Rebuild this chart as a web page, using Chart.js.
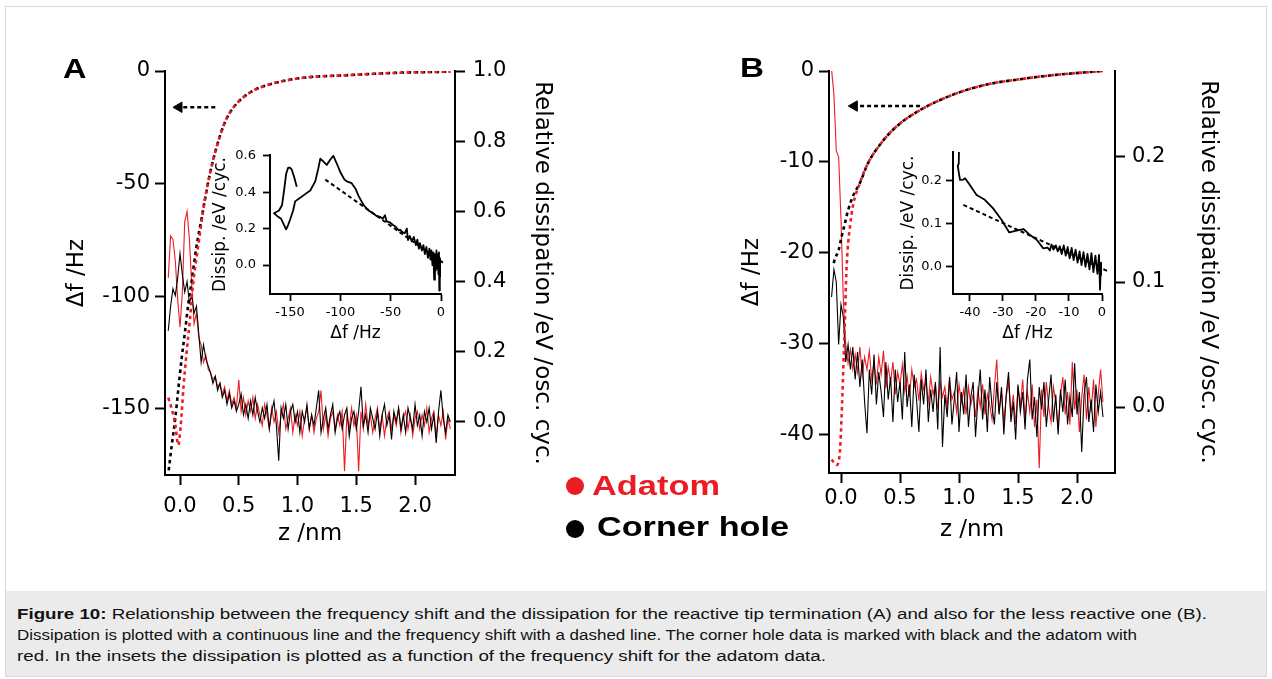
<!DOCTYPE html>
<html><head><meta charset="utf-8"><title>Figure 10</title>
<script src="https://cdn.jsdelivr.net/npm/chart.js@4.4.1/dist/chart.umd.min.js"></script>
<style>
html,body{margin:0;padding:0;background:#fff;}
body{width:1272px;height:679px;position:relative;overflow:hidden;font-family:"Liberation Sans",Arial,sans-serif;}
#frame{position:absolute;left:5px;top:6px;width:1262px;height:671px;border:1.5px solid #dadada;box-sizing:border-box;}
#capbox{position:absolute;left:6px;top:591px;width:1260px;height:85px;background:#ebebeb;}
.t{position:absolute;white-space:nowrap;transform-origin:0 0;line-height:1.117;}
canvas{position:absolute;}
.dot{position:absolute;border-radius:50%;}
</style></head>
<body>
<div id="frame"></div>
<div id="capbox"></div>
<canvas id="mainA" width="590" height="520" style="left:30px;top:40px"></canvas>
<canvas id="insetA" width="250" height="210" style="left:200px;top:140px"></canvas>
<canvas id="mainB" width="570" height="520" style="left:700px;top:40px"></canvas>
<canvas id="insetB" width="240" height="210" style="left:880px;top:140px"></canvas>

<div class="t" data-w="23.5" style="left:63px;top:52.7px;font-size:28px;font-weight:bold">A</div>
<div class="t" data-w="24" style="left:739.5px;top:51.7px;font-size:28px;font-weight:bold">B</div>

<div class="dot" style="left:566px;top:477px;width:18px;height:18px;background:#ec1c24"></div>
<div class="dot" style="left:566px;top:520px;width:18px;height:18px;background:#000"></div>
<div class="t" data-w="128" style="left:592px;top:469.7px;font-size:28px;font-weight:bold;color:#ec1c24">Adatom</div>
<div class="t" data-w="192" style="left:596.5px;top:510.7px;font-size:28px;font-weight:bold;color:#000">Corner hole</div>

<div class="t" data-w="1190" style="left:16.5px;top:606.8px;font-size:14px;color:#111"><b>Figure 10:</b> Relationship between the frequency shift and the dissipation for the reactive tip termination (A) and also for the less reactive one (B).</div>
<div class="t" data-w="1120" style="left:16.5px;top:627.8px;font-size:14px;color:#111">Dissipation is plotted with a continuous line and the frequency shift with a dashed line. The corner hole data is marked with black and the adatom with</div>
<div class="t" data-w="809" style="left:16.5px;top:648.8px;font-size:14px;color:#111">red. In the insets the dissipation is plotted as a function of the frequency shift for the adatom data.</div>

<script>
// ---------------- DATA ----------------
// Panel A: tick values and labels
const A_zTicks = [0.0, 0.5, 1.0, 1.5, 2.0];
const A_zTickLabels = ['0.0', '0.5', '1.0', '1.5', '2.0'];
const A_dfTicks = [0, -50, -100, -150];
const A_dfTickLabels = ['0', '-50', '-100', '-150'];
const A_dissTicks = [1.0, 0.8, 0.6, 0.4, 0.2, 0.0];
const A_dissTickLabels = ['1.0', '0.8', '0.6', '0.4', '0.2', '0.0'];

// Panel A: frequency shift curves (dashed), z in nm, df in Hz
const A_dfAdatomZ = [-0.10, -0.07, -0.04, -0.015, 0.005, 0.03, 0.057, 0.085, 0.11, 0.14, 0.17, 0.21, 0.255, 0.31, 0.38, 0.45, 0.60, 0.74, 1.02, 1.45, 1.87, 2.30];
const A_dfAdatom = [-145, -150, -157, -166, -158, -140, -124.5, -110, -95, -83, -72, -57.6, -45.5, -34, -23, -16.5, -9.4, -6.3, -3.2, -1.8, -0.75, -0.3];
const A_dfCornerZ = [-0.10, -0.07, -0.04, -0.014, 0.014, 0.043, 0.07, 0.10, 0.14, 0.185, 0.21, 0.255, 0.31, 0.38, 0.45, 0.60, 0.74, 1.02, 1.45, 1.87, 2.30];
const A_dfCorner = [-178.8, -166, -154, -141, -127.5, -115.6, -103.6, -93, -78, -65, -57.6, -45.5, -34, -23, -16.5, -9.4, -6.3, -3.2, -1.8, -0.75, -0.3];
const A_arrowZ = [0.30, -0.0085];
const A_arrowDf = [-16.1, -16.1];

// Panel A: relative dissipation, sampled every 0.02 nm from z = -0.10
const A_zStart = -0.10, A_zStep = 0.02;
const A_dissAdatom = [
  0.41,0.53,0.52,0.46,0.35,0.27,0.37,0.57,0.60,0.52,0.39,0.28,0.31,0.24,0.22,0.17,0.19,0.15,0.14,0.12,0.13,0.10,0.11,0.08,0.10,0.06,0.09,0.05,0.07,
  0.04,0.12,0.03,0.07,0.02,0.06,0.03,0.07,0.01,0.05,
  0.02,-0.01,0.05,0.02,-0.02,0.04,0.00,0.03,-0.03,0.02,0.05,-0.02,0.01,0.04,-0.03,
  0.02,-0.01,0.03,-0.04,0.01,0.04,-0.02,0.02,-0.03,0.01,
  0.03,0.09,-0.02,0.02,-0.04,0.01,0.03,-0.02,0.02,-0.01,
  0.03,-0.14,0.02,-0.02,0.04,-0.01,0.02,-0.14,0.03,-0.02,
  0.05,-0.01,0.02,-0.03,0.01,0.04,-0.02,0.02,-0.04,0.01,
  0.03,-0.02,0.02,-0.01,0.04,-0.03,0.01,0.03,-0.02,0.02,
  -0.04,0.01,0.03,-0.02,0.02,-0.01,0.04,-0.03,0.01,0.03,
  -0.04,0.02,-0.01,0.03,-0.05,0.01,-0.02
];
const A_dissCorner = [
  0.26,0.33,0.38,0.36,0.41,0.48,0.42,0.37,0.40,0.34,0.36,0.31,0.33,0.25,0.17,0.22,0.18,0.16,0.14,0.11,0.13,0.09,0.11,0.07,0.09,0.05,0.08,0.04,0.06,
  0.03,0.05,0.08,0.02,0.05,0.01,0.06,0.02,0.07,0.03,
  0.00,0.04,0.01,0.05,-0.02,0.03,0.06,-0.01,-0.11,0.04,0.01,0.05,-0.02,0.03,0.05,
  0.00,0.03,-0.03,0.03,0.00,0.05,-0.02,0.02,-0.01,0.04,
  0.09,-0.03,0.01,0.04,-0.02,0.02,0.05,-0.03,0.01,0.03,
  -0.02,0.02,0.04,-0.04,0.01,0.03,-0.02,0.03,0.10,-0.01,
  0.02,-0.03,0.04,0.01,-0.02,0.03,-0.04,0.02,0.05,-0.01,
  0.02,-0.05,0.03,0.00,0.04,-0.02,0.02,-0.03,0.04,0.01,
  -0.02,0.05,-0.01,0.02,-0.04,0.03,0.00,0.04,-0.02,0.02,
  -0.06,0.03,0.09,0.01,-0.03,0.02,0.00
];

// Inset A: adatom dissipation vs frequency shift
const IA_df = [-143.4,-145.8,-148.4,-150,-152,-154,-156,-158,-161,-166,-163,-159,-156,-154,-152,-150,-147,-145,-140,-135,-130,-125,-122,-120,-117,-113.6,-110,-107,-103,-100,-96,-93.7,-88.8,-85,-82,-77,-72,-67.6,-64,-60.6,-58,-55.7,-54,-51,-47.7,-45,-42,-40.8,-38,-36,-34,-32.8,-31,-29,-27,-25,-23.5,-22,-20.9,-19,-17.5,-16,-14.5,-13,-11.5,-10.5,-9.5,-8.5,-7.6,-6.8,-6,-5.2,-4.5,-3.8,-3.2,-2.6,-2.0,-1.7,-1.2,-0.8,-0.4,-0.1];
const IA_diss = [0.43,0.48,0.525,0.535,0.535,0.50,0.41,0.33,0.30,0.285,0.27,0.255,0.22,0.196,0.22,0.25,0.30,0.35,0.37,0.39,0.41,0.46,0.53,0.585,0.57,0.55,0.58,0.60,0.55,0.51,0.47,0.46,0.45,0.42,0.38,0.33,0.30,0.285,0.27,0.265,0.255,0.274,0.24,0.235,0.22,0.21,0.19,0.195,0.18,0.175,0.20,0.137,0.16,0.13,0.155,0.11,0.14,0.09,0.12,0.08,0.11,0.06,0.10,0.04,0.09,0.03,0.08,0.00,0.07,-0.08,0.06,-0.03,0.08,-0.02,0.06,-0.05,0.07,-0.14,0.04,-0.06,0.03,0.0];
const IA_fitDf = [-115, 4];
const IA_fitDiss = [0.47, 0.005];
const IA_xTicks = [-150, -100, -50, 0];
const IA_xTickLabels = ['-150', '-100', '-50', '0'];
const IA_yTicks = [0.0, 0.2, 0.4, 0.6];
const IA_yTickLabels = ['0.0', '0.2', '0.4', '0.6'];

// Panel B: tick values and labels
const B_zTicks = [0.0, 0.5, 1.0, 1.5, 2.0];
const B_zTickLabels = ['0.0', '0.5', '1.0', '1.5', '2.0'];
const B_dfTicks = [0, -10, -20, -30, -40];
const B_dfTickLabels = ['0', '-10', '-20', '-30', '-40'];
const B_dissTicks = [0.2, 0.1, 0.0];
const B_dissTickLabels = ['0.2', '0.1', '0.0'];

// Panel B: frequency shift curves (dashed)
const B_dfAdatomZ = [-0.08, -0.036, -0.008, 0.005, 0.02, 0.034, 0.042, 0.056, 0.076, 0.10, 0.16, 0.23, 0.33, 0.47, 0.67, 0.95, 1.23, 1.52, 1.80, 2.22];
const B_dfAdatom = [-42.7, -43.3, -41.6, -38, -32.5, -27, -23.3, -19.7, -17.1, -14.9, -12.3, -10.1, -8.1, -6.1, -4.3, -2.6, -1.5, -0.9, -0.45, 0];
const B_dfCornerZ = [-0.07, -0.05, -0.02, 0.005, 0.034, 0.06, 0.10, 0.16, 0.23, 0.33, 0.47, 0.67, 0.95, 1.23, 1.52, 1.80, 2.22];
const B_dfCorner = [-21.5, -20.6, -19.7, -18.2, -16.7, -15.3, -13.8, -12.3, -10.1, -8.1, -6.1, -4.3, -2.6, -1.5, -0.9, -0.45, 0];
const B_arrowZ = [0.67, 0.113];
const B_arrowDf = [-3.85, -3.85];

// Panel B: relative dissipation, sampled every 0.02 nm from z = -0.08
const B_zStart = -0.08, B_zStep = 0.02;
const B_dissAdatom = [
  0.27,0.25,0.205,0.20,0.15,0.085,0.05,0.035,0.046,0.030,
  0.042,0.028,0.048,0.025,0.040,0.030,0.045,0.022,0.036,0.018,
  0.040,0.026,0.045,0.015,0.032,0.020,0.036,0.010,0.028,0.018,
  0.034,0.012,0.025,0.008,0.030,0.016,0.022,0.005,0.027,0.014,
  0.020,0.004,0.024,0.010,0.018,-0.002,0.020,0.008,0.016,0.000,
  0.022,0.006,0.012,-0.004,0.018,0.004,0.014,-0.006,0.016,0.002,
  0.010,-0.008,0.014,0.000,0.018,-0.006,0.010,0.002,-0.010,0.016,
  0.038,-0.004,0.012,-0.012,0.008,0.020,-0.006,0.010,-0.014,0.016,
  0.002,0.022,-0.010,0.012,-0.004,0.018,-0.016,0.006,-0.049,0.014,
  -0.008,0.020,0.000,-0.012,0.016,0.004,-0.018,0.010,0.024,-0.006,
  0.012,-0.014,0.036,-0.002,0.014,-0.020,0.008,0.026,-0.010,0.016,
  -0.004,0.022,-0.016,0.010,0.030,0.004
];
const B_dissCorner = [
  0.088,0.11,0.10,0.05,0.082,0.072,0.036,0.050,0.030,0.048,
  0.022,0.044,0.016,0.038,0.004,-0.021,0.030,0.010,0.042,0.002,
  0.028,0.012,-0.008,0.036,0.006,0.024,-0.012,0.030,0.004,0.020,
  -0.010,0.044,0.000,0.018,-0.016,0.026,0.006,-0.020,0.022,0.002,
  0.030,-0.012,0.014,-0.004,0.020,-0.018,0.048,-0.032,0.010,-0.008,
  0.024,-0.014,0.006,0.028,-0.020,0.012,-0.006,0.026,-0.016,0.008,
  0.020,-0.024,0.006,0.030,-0.010,0.014,-0.020,0.024,0.000,-0.014,
  0.020,-0.006,0.016,-0.022,0.010,0.028,-0.012,0.004,-0.026,0.018,
  -0.004,0.012,-0.018,0.022,0.038,-0.010,0.008,-0.024,0.016,-0.002,
  0.020,-0.016,0.006,0.026,-0.012,0.010,-0.022,0.014,-0.004,0.022,
  -0.014,0.008,-0.008,0.035,-0.006,0.012,-0.036,0.010,0.024,-0.012,
  0.006,-0.020,0.018,-0.004,0.012,-0.008
];

// Inset B
const IB_df = [-43.3,-43.4,-43.7,-43.2,-43,-42,-41.5,-40,-38,-35.5,-33,-30.4,-28.1,-25.9,-23.8,-21.8,-19.8,-17.8,-16.5,-15.8,-15.3,-14.7,-14,-13.4,-12.8,-12.2,-11.6,-11,-10.4,-9.8,-9.2,-8.6,-8,-7.4,-6.8,-6.2,-5.6,-5,-4.4,-3.8,-3.2,-2.6,-2,-1.4,-0.9,-0.6,-0.3,0];
const IB_diss = [0.30,0.24,0.235,0.21,0.202,0.203,0.206,0.19,0.167,0.156,0.136,0.109,0.08,0.084,0.088,0.074,0.063,0.043,0.045,0.038,0.052,0.04,0.05,0.036,0.048,0.03,0.05,0.026,0.046,0.02,0.044,0.016,0.04,0.01,0.036,0.004,0.034,0.0,0.03,-0.006,0.032,-0.012,0.026,-0.016,0.028,-0.053,0.01,-0.02];
const IB_fitDf = [-42, 2];
const IB_fitDiss = [0.144, -0.011];
const IB_xTicks = [-40, -30, -20, -10, 0];
const IB_xTickLabels = ['-40', '-30', '-20', '-10', '0'];
const IB_yTicks = [0.0, 0.1, 0.2];
const IB_yTickLabels = ['0.0', '0.1', '0.2'];

// ---------------- DRAWING ----------------
Chart.defaults.font.family = '"DejaVu Sans", sans-serif';
Chart.defaults.color = '#000';
const RED = '#ec1c24';

function pts(xs, ys) { return xs.map((x, i) => ({ x: x, y: ys[i] })); }
function sampled(z0, dz, ys) { return ys.map((y, i) => ({ x: Math.round((z0 + dz * i) * 1000) / 1000, y: y })); }

function axis(o) {
  return {
    type: 'linear', position: o.pos, min: o.min, max: o.max,
    afterBuildTicks: s => { s.ticks = o.ticks.map(v => ({ value: v })); },
    afterFit: s => { if (o.pos === 'bottom') s.height = o.size; else s.width = o.size; },
    ticks: { autoSkip: false, maxRotation: 0, minRotation: 0, padding: o.tpad, font: { size: o.fs }, color: '#000', callback: (v, i) => o.labels[i] },
    grid: { display: true, drawOnChartArea: false, drawTicks: true, tickLength: o.tl, tickWidth: o.tw, tickColor: '#000' },
    border: { display: true, color: '#000', width: o.bw },
    title: { display: true, text: o.title, color: '#000', font: { size: o.tfs },
      padding: o.pos === 'bottom' ? { top: 0, bottom: o.titlePad } : { top: o.titlePad, bottom: 0 } }
  };
}

function mainChart(id, P) {
  return new Chart(document.getElementById(id), {
    type: 'line',
    data: { datasets: [
      { label: 'Arrow', data: pts(P.arrowZ, P.arrowDf), yAxisID: 'yL', borderColor: '#000', borderWidth: 2.4, borderDash: [4, 3],
        pointRadius: [0, 6], pointHoverRadius: 0, pointStyle: 'triangle', pointRotation: -90, pointBackgroundColor: '#000', pointBorderColor: '#000', pointBorderWidth: 1, order: 0 },
      { label: 'Adatom frequency shift', data: pts(P.dfRedZ, P.dfRed), yAxisID: 'yL', borderColor: RED, borderWidth: 2.6, borderDash: [3.5, 3.5],
        pointRadius: 0, cubicInterpolationMode: 'monotone', order: 1 },
      { label: 'Corner hole frequency shift', data: pts(P.dfBlkZ, P.dfBlk), yAxisID: 'yL', borderColor: '#000', borderWidth: 2.6, borderDash: [3.5, 3.5], borderDashOffset: 3.5,
        pointRadius: 0, cubicInterpolationMode: 'monotone', order: 2 },
      { label: 'Corner hole dissipation', data: sampled(P.z0, P.dz, P.dissBlk), yAxisID: 'yR', borderColor: '#000', borderWidth: 1.1, pointRadius: 0, tension: 0, order: 3 },
      { label: 'Adatom dissipation', data: sampled(P.z0, P.dz, P.dissRed), yAxisID: 'yR', borderColor: RED, borderWidth: 1.1, pointRadius: 0, tension: 0, order: 4 }
    ] },
    options: {
      responsive: false, devicePixelRatio: 1, animation: false, events: [],
      layout: { padding: { top: P.padTop, left: 0, right: 0, bottom: 0 } },
      plugins: { legend: { display: false }, tooltip: { enabled: false } },
      scales: {
        x: axis({ pos: 'bottom', min: P.xMin, max: P.xMax, ticks: P.xTicks, labels: P.xLabels, size: P.xH, tpad: P.xTpad, fs: 21, tl: 10, tw: 2, bw: 2, title: 'z /nm', tfs: 23, titlePad: P.xTitlePad }),
        yL: axis({ pos: 'left', min: P.yLMin, max: P.yLMax, ticks: P.yLTicks, labels: P.yLLabels, size: P.yLW, tpad: P.yLTpad, fs: 21, tl: 10, tw: 2, bw: 2, title: 'Δf /Hz', tfs: 23, titlePad: P.yLTitlePad }),
        yR: axis({ pos: 'right', min: P.yRMin, max: P.yRMax, ticks: P.yRTicks, labels: P.yRLabels, size: P.yRW, tpad: P.yRTpad, fs: 21, tl: 10, tw: 2, bw: 2, title: 'Relative dissipation /eV /osc. cyc.', tfs: 23, titlePad: P.yRTitlePad })
      }
    }
  });
}

function insetChart(id, P) {
  return new Chart(document.getElementById(id), {
    type: 'scatter',
    data: { datasets: [
      { label: 'Linear trend', data: pts(P.fitDf, P.fitDiss), showLine: true, borderColor: '#000', borderWidth: 2, borderDash: [4, 3], pointRadius: 0, clip: false, order: 0 },
      { label: 'Adatom dissipation vs frequency shift', data: pts(P.df, P.diss), showLine: true, borderColor: '#000', borderWidth: 1.8, borderJoinStyle: 'round', pointRadius: 0, order: 1 }
    ] },
    options: {
      responsive: false, devicePixelRatio: 1, animation: false, events: [],
      layout: { padding: { top: P.padTop, left: 0, right: P.padRight, bottom: 0 } },
      plugins: { legend: { display: false }, tooltip: { enabled: false } },
      scales: {
        x: axis({ pos: 'bottom', min: P.xMin, max: P.xMax, ticks: P.xTicks, labels: P.xLabels, size: 56, tpad: 4, fs: 13, tl: 7, tw: 1.8, bw: 2, title: 'Δf /Hz', tfs: 17, titlePad: 6.5 }),
        y: axis({ pos: 'left', min: P.yMin, max: P.yMax, ticks: P.yTicks, labels: P.yLabels, size: P.yW, tpad: P.yTpad, fs: 13, tl: 7, tw: 1.8, bw: 2, title: 'Dissip. /eV /cyc.', tfs: 17, titlePad: P.yTitlePad })
      }
    }
  });
}

mainChart('mainA', {
  arrowZ: A_arrowZ, arrowDf: A_arrowDf, dfRedZ: A_dfAdatomZ, dfRed: A_dfAdatom, dfBlkZ: A_dfCornerZ, dfBlk: A_dfCorner,
  z0: A_zStart, dz: A_zStep, dissRed: A_dissAdatom, dissBlk: A_dissCorner,
  padTop: 31, xMin: -0.1277, xMax: 2.340, xTicks: A_zTicks, xLabels: A_zTickLabels, xH: 85, xTpad: 9, xTitlePad: 12,
  yLMin: -179.3, yLMax: 0, yLTicks: A_dfTicks, yLLabels: A_dfTickLabels, yLW: 135, yLTpad: 5, yLTitlePad: 33,
  yRMin: -0.151, yRMax: 1.0, yRTicks: A_dissTicks, yRLabels: A_dissTickLabels, yRW: 165, yRTpad: 8, yRTitlePad: 64.7
});
mainChart('mainB', {
  arrowZ: B_arrowZ, arrowDf: B_arrowDf, dfRedZ: B_dfAdatomZ, dfRed: B_dfAdatom, dfBlkZ: B_dfCornerZ, dfBlk: B_dfCorner,
  z0: B_zStart, dz: B_zStep, dissRed: B_dissAdatom, dissBlk: B_dissCorner,
  padTop: 31, xMin: -0.1017, xMax: 2.322, xTicks: B_zTicks, xLabels: B_zTickLabels, xH: 87, xTpad: 3, xTitlePad: 16,
  yLMin: -44.18, yLMax: 0, yLTicks: B_dfTicks, yLLabels: B_dfTickLabels, yLW: 129, yLTpad: 5, yLTitlePad: 38,
  yRMin: -0.0528, yRMax: 0.2688, yRTicks: B_dissTicks, yRLabels: B_dissTickLabels, yRW: 155, yRTpad: 7, yRTitlePad: 48
});
insetChart('insetA', {
  df: IA_df, diss: IA_diss, fitDf: IA_fitDf, fitDiss: IA_fitDiss,
  padTop: 15, padRight: 9, xMin: -170, xMax: 0, xTicks: IA_xTicks, xLabels: IA_xTickLabels,
  yMin: -0.159, yMax: 0.605, yTicks: IA_yTicks, yLabels: IA_yTickLabels, yW: 70, yTpad: 7, yTitlePad: 10
});
insetChart('insetB', {
  df: IB_df, diss: IB_diss, fitDf: IB_fitDf, fitDiss: IB_fitDiss,
  padTop: 12, padRight: 18, xMin: -45.15, xMax: 0, xTicks: IB_xTicks, xLabels: IB_xTickLabels,
  yMin: -0.063, yMax: 0.267, yTicks: IB_yTicks, yLabels: IB_yTickLabels, yW: 73, yTpad: 4, yTitlePad: 18
});

function fitTexts() {
  document.querySelectorAll('[data-w]').forEach(el => {
    el.style.transform = 'none';
    const w = el.getBoundingClientRect().width;
    el.style.transform = 'scaleX(' + (parseFloat(el.dataset.w) / w) + ')';
  });
}
fitTexts();
window.addEventListener('load', fitTexts);
</script>
</body></html>
